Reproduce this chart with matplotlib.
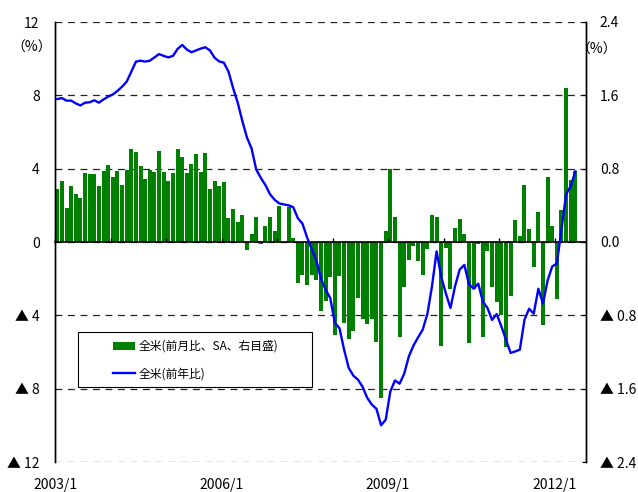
import numpy as np
import matplotlib
matplotlib.use("Agg")
import matplotlib.pyplot as plt
from matplotlib.patches import Patch, Rectangle
from matplotlib.lines import Line2D
from matplotlib.transforms import blended_transform_factory

plt.rcParams["font.family"] = ["Noto Sans CJK JP", "DejaVu Sans"]

# monthly data, 2003/1 .. 2012/5
# month-on-month, seasonally adjusted (%), right axis
mom_sa = [
    0.58, 0.66, 0.37, 0.61, 0.52, 0.48, 0.75, 0.74, 0.74, 0.61, 0.77, 0.84,
    0.71, 0.77, 0.62, 0.79, 1.01, 0.98, 0.83, 0.69, 0.79, 0.76, 0.99, 0.76,
    0.66, 0.75, 1.01, 0.93, 0.75, 0.85, 0.96, 0.76, 0.97, 0.58, 0.66, 0.61,
    0.65, 0.26, 0.36, 0.22, 0.29, -0.084, 0.09, 0.27, -0.02, 0.176, 0.27, 0.12,
    0.39, 0.0, 0.38, 0.044, -0.444, -0.356, -0.466, -0.36, -0.42, -0.752, -0.64, -0.38,
    -1.01, -0.368, -0.88, -1.054, -0.968, -0.608, -0.836, -0.9, -0.836, -1.088, -1.698, 0.124,
    0.80, 0.276, -1.032, -0.488, -0.192, -0.04, -0.204, -0.356, -0.072, 0.298, 0.276, -1.14,
    -0.062, -0.51, 0.156, 0.254, 0.09, -1.098, -0.51, -0.02, -1.032, -0.094, -0.488, -0.65,
    -0.792, -1.142, -0.586, 0.244, 0.07, 0.626, 0.146, -0.27, 0.33, -0.902, 0.712, 0.178,
    -0.618, 0.352, 1.684, 0.68, 0.778,
]

# year-on-year (%), left axis
yoy = [
    7.8, 7.85, 7.71, 7.71, 7.56, 7.45, 7.6, 7.62, 7.73, 7.6, 7.78, 7.93,
    8.05, 8.24, 8.47, 8.75, 9.29, 9.84, 9.89, 9.84, 9.89, 10.07, 10.25, 10.15,
    10.07, 10.15, 10.53, 10.75, 10.5, 10.35, 10.45, 10.55, 10.62, 10.45, 10.05, 9.85,
    9.78, 9.3, 8.4, 7.6, 6.6, 5.7, 5.1, 3.95, 3.5, 3.1, 2.6, 2.3,
    2.1, 2.05, 2.0, 1.9, 1.3, 1.0, 0.25, -0.4, -1.0, -2.0, -2.6, -3.05,
    -4.4, -4.7, -5.87, -6.87, -7.29, -7.51, -7.9, -8.5, -8.87, -9.1, -10.0, -9.69,
    -8.15, -7.55, -7.73, -7.18, -6.24, -5.65, -5.2, -4.78, -3.93, -2.42, -0.51, -1.9,
    -2.8, -3.6, -2.4, -1.5, -1.25, -2.3, -2.55, -2.27, -3.25, -3.6, -4.25, -3.93,
    -4.6, -5.33, -6.05, -5.97, -5.87, -4.24, -3.64, -3.91, -2.55, -3.36, -2.1, -1.33,
    -1.18, 0.7, 2.6, 3.05, 3.85,
]

left_ticks = [-12, -8, -4, 0, 4, 8, 12]
left_labels = ["▲ 12", "▲ 8", "▲ 4", "0", "4", "8", "12"]
right_ticks = [-2.4, -1.6, -0.8, 0.0, 0.8, 1.6, 2.4]
right_labels = ["▲ 2.4", "▲ 1.6", "▲ 0.8", "0.0", "0.8", "1.6", "2.4"]
year_labels = ["2003/1", "2006/1", "2009/1", "2012/1"]
year_label_pos = [0, 36, 72, 108]

label_bar = "全米(前月比、SA、右目盛)"
label_line = "全米(前年比)"

GREEN = "#008000"
BLUE = "#0000ff"

x = np.arange(len(yoy)) + 0.5

fig = plt.figure(figsize=(6.38, 4.92), dpi=100)
ax = fig.add_axes([55 / 638, 30 / 492, 531 / 638, 440 / 492])
ax2 = ax.twinx()

# bars on the (lower) right axis, line on the (upper) left axis
ax.set_zorder(ax2.get_zorder() + 1)
ax.patch.set_visible(False)

ax2.set_axisbelow(True)
ax2.grid(axis="y", color="#222222", linestyle=(0, (5.5, 4.5)), linewidth=0.9)
ax2.bar(x, mom_sa, width=0.86, color=GREEN, zorder=2)
ax2.set_ylim(-2.4, 2.4)
ax2.set_yticks(right_ticks)
ax2.set_yticklabels(right_labels)
ax2.tick_params(axis="y", direction="in", length=3, pad=10, labelsize=10)

ax.plot(x, yoy, color=BLUE, linewidth=1.7, zorder=3)
ax.set_ylim(-12, 12)
ax.set_yticks(left_ticks)
ax.set_yticklabels(left_labels)
ax.tick_params(axis="y", direction="in", length=0, pad=11, labelsize=10)

ax.set_xlim(0, 114.8)
ax.set_xticks(np.arange(0, 115, 12))
ax.tick_params(axis="x", direction="in", length=3, width=1, labelbottom=False)

for a in (ax, ax2):
    a.spines["top"].set_visible(False)
    for s in ("left", "right"):
        a.spines[s].set_linewidth(1.0)
ax2.spines["bottom"].set_visible(False)
ax.spines["bottom"].set_position(("data", 0))
ax.spines["bottom"].set_linewidth(1.2)

trans = blended_transform_factory(ax.transData, ax.transAxes)
for pos, lab in zip(year_label_pos, year_labels):
    ax.text(pos, -0.052, lab, transform=trans, ha="center", va="center", fontsize=10)

fig.text(32 / 638, 1 - 48 / 492, "（%）", ha="center", va="center", fontsize=10)
fig.text(597 / 638, 1 - 50 / 492, "（%）", ha="center", va="center", fontsize=10)

# legend box
ax.add_patch(Rectangle((23 / 531, 75 / 440), 234 / 531, 55 / 440, transform=ax.transAxes,
                       facecolor="white", edgecolor="black", linewidth=0.8, zorder=4))
handles = [Patch(facecolor=GREEN, edgecolor="none"),
           Line2D([], [], color=BLUE, linewidth=1.7)]
leg = ax.legend(handles, [label_bar, label_line], loc="upper left",
                bbox_to_anchor=(58 / 531, 122 / 440), frameon=False, fontsize=8.5,
                borderpad=0, borderaxespad=0, handlelength=1.9, handletextpad=0.3,
                labelspacing=1.2)
leg.set_zorder(5)

fig.savefig("out.png", dpi=100)
